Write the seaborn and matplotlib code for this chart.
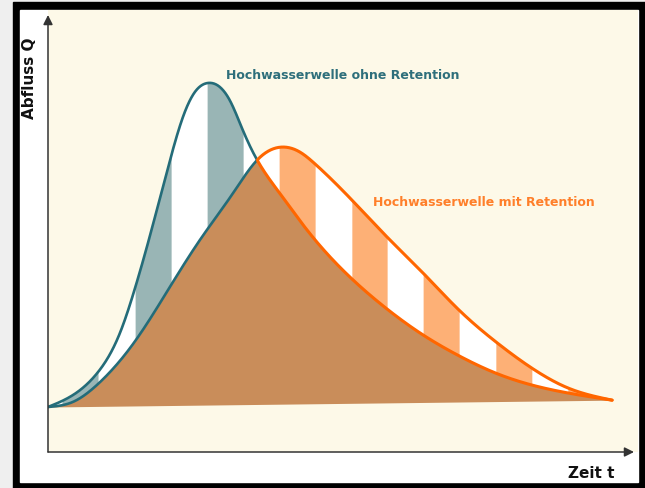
import numpy as np
import pandas as pd
import matplotlib
matplotlib.use("Agg")
import matplotlib.pyplot as plt
from matplotlib.patches import Rectangle
import seaborn as sns

# ---------------- data (Zeit t, Abfluss Q) ----------------
t_ohne = [0.0, 0.69, 1.39, 2.0, 2.42, 2.83, 3.39, 3.75, 4.08, 4.44, 5.06,
          5.42, 5.81, 6.39, 7.0, 7.42, 8.44, 9.42, 10.42, 11.42, 12.44, 13.44,
          14.44, 15.67]
q_ohne = [1.25, 1.58, 2.22, 3.31, 4.56, 6.0, 8.11, 9.31, 10.0, 10.25, 9.75,
          8.92, 8.11, 7.25, 6.42, 5.89, 4.81, 3.97, 3.25, 2.67, 2.19, 1.86,
          1.64, 1.44]

t_mit = [0.0, 0.69, 1.39, 2.42, 3.42, 4.22, 5.14, 5.81, 6.5, 7.0, 7.42,
         8.44, 9.42, 10.42, 11.42, 12.44, 13.44, 14.44, 15.67]
q_mit = [1.25, 1.39, 1.89, 3.08, 4.64, 5.89, 7.19, 8.11, 8.47, 8.33, 8.0,
         7.0, 5.97, 4.97, 3.94, 3.06, 2.33, 1.78, 1.44]

# base line of the shaded area
t_basis = [0.0, 15.67]
q_basis = [1.25, 1.44]

# coloured stripes (start, end) in t
stripe_start = [0.39, 2.42, 4.42, 6.42, 8.44, 10.42, 12.44, 14.44]
stripe_end = [1.39, 3.42, 5.42, 7.42, 9.42, 11.42, 13.44, 15.44]

label_ohne = "Hochwasserwelle ohne Retention"
label_mit = "Hochwasserwelle mit Retention"
label_y = "Abfluss Q"
label_x = "Zeit t"

# ---------------- colours ----------------
C_TEAL = "#246c79"
C_TEAL_TXT = "#2e6f7b"
C_TEAL_FILL = "#99b5b5"
C_ORANGE = "#ff6600"
C_ORANGE_TXT = "#ff7f2a"
C_ORANGE_FILL = "#fdb076"
C_BROWN = "#c98d5a"
C_CREAM = "#fdf9e8"


def smooth(xp, yp, xq):
    """natural cubic spline through the read points (for drawing only)"""
    x = np.asarray(xp, float)
    y = np.asarray(yp, float)
    xq = np.asarray(xq, float)
    n = len(x)
    h = np.diff(x)
    A = np.zeros((n, n))
    r = np.zeros(n)
    A[0, 0] = A[-1, -1] = 1.0
    for i in range(1, n - 1):
        A[i, i - 1] = h[i - 1]
        A[i, i] = 2 * (h[i - 1] + h[i])
        A[i, i + 1] = h[i]
        r[i] = 6 * ((y[i + 1] - y[i]) / h[i] - (y[i] - y[i - 1]) / h[i - 1])
    M = np.linalg.solve(A, r)
    idx = np.clip(np.searchsorted(x, xq) - 1, 0, n - 2)
    x0, x1 = x[idx], x[idx + 1]
    hh = x1 - x0
    a = (x1 - xq) / hh
    b = (xq - x0) / hh
    return (a * y[idx] + b * y[idx + 1]
            + ((a**3 - a) * M[idx] + (b**3 - b) * M[idx + 1]) * hh**2 / 6)


sns.set_theme(style="white")
plt.rcParams["font.family"] = ["DejaVu Sans"]

W, H = 645, 488
fig = plt.figure(figsize=(W / 100, H / 100), dpi=100)
fig.patch.set_facecolor("#efefef")
fig.add_artist(Rectangle((13 / W, 0), 1 - 13 / W, (H - 2) / H,
                         transform=fig.transFigure, color="black", zorder=-2))
fig.add_artist(Rectangle((20 / W, (H - 482) / H), (638 - 20) / W, (482 - 10) / H,
                         transform=fig.transFigure, color="white", zorder=-1))

ax = fig.add_axes([48 / W, (H - 452) / H, (638 - 48) / W, (452 - 10) / H])
ax.set_facecolor(C_CREAM)
for sp in ax.spines.values():
    sp.set_visible(False)
ax.set_xticks([])
ax.set_yticks([])
ax.set_xlim(0, (638 - 48) / 36)
ax.set_ylim(0, (452 - 10) / 36)

t = np.linspace(t_basis[0], t_basis[-1], 1500)
q1 = smooth(t_ohne, q_ohne, t)
q2 = smooth(t_mit, q_mit, t)
lo = np.minimum(q1, q2)
hi = np.maximum(q1, q2)
base = np.interp(t, t_basis, q_basis)

# white area between the waves
ax.fill_between(t, lo, hi, color="white", lw=0, zorder=1)
# stripes
for a, b in zip(stripe_start, stripe_end):
    tt = np.linspace(a, min(b, t_basis[-1]), 200)
    s1 = smooth(t_ohne, q_ohne, tt)
    s2 = smooth(t_mit, q_mit, tt)
    ax.fill_between(tt, s2, s1, where=s1 >= s2, color=C_TEAL_FILL, lw=0, zorder=2)
    ax.fill_between(tt, s1, s2, where=s2 >= s1, color=C_ORANGE_FILL, lw=0, zorder=2)
# brown common area
ax.fill_between(t, base, lo, color=C_BROWN, lw=0, zorder=3)

# crossing of both waves
d = q1 - q2
mid = np.where((d[:-1] > 0) & (d[1:] <= 0))[0]
k = mid[0] + 1
tc = t[k]

rows = []
for name, qq in (("ohne", q1), ("mit", q2)):
    for i in range(len(t)):
        rows.append((t[i], qq[i], name, "links" if t[i] <= tc else "rechts"))
        if i == k:
            rows.append((t[i], qq[i], name, "links"))
df = pd.DataFrame(rows, columns=["t", "Q", "kurve", "abschnitt"])

sns.lineplot(data=df[df.abschnitt == "links"], x="t", y="Q", units="kurve",
             estimator=None, color=C_TEAL, lw=1.9, ax=ax, zorder=4, legend=False)
sns.lineplot(data=df[df.abschnitt == "rechts"], x="t", y="Q", units="kurve",
             estimator=None, color=C_ORANGE, lw=2.2, ax=ax, zorder=4, legend=False)
ax.set_xlabel("")
ax.set_ylabel("")

# axes arrows
arrow = dict(arrowstyle="-|>", color="#333333", lw=1.1, shrinkA=0, shrinkB=0,
             mutation_scale=14)
ax.annotate("", xy=((634 - 48) / (638 - 48), 0), xytext=(0, 0),
            xycoords="axes fraction", arrowprops=arrow, zorder=6)
ax.annotate("", xy=(0, (452 - 15) / (452 - 10)), xytext=(0, 0),
            xycoords="axes fraction", arrowprops=arrow, zorder=6)

# texts
ax.text((226 - 48) / 36, (452 - 75) / 36, label_ohne, color=C_TEAL_TXT,
        fontsize=9, fontweight="bold", ha="left", va="center", zorder=7)
ax.text((373 - 48) / 36, (452 - 202) / 36, label_mit, color=C_ORANGE_TXT,
        fontsize=9, fontweight="bold", ha="left", va="center", zorder=7)
fig.text(30 / W, 1 - 78 / H, label_y, rotation=90, color="#111111",
         fontsize=11, fontweight="bold", ha="center", va="center")
fig.text(568 / W, 1 - 473 / H, label_x, color="#111111",
         fontsize=11, fontweight="bold", ha="left", va="center")

fig.savefig("out.png", dpi=100, facecolor=fig.get_facecolor())
